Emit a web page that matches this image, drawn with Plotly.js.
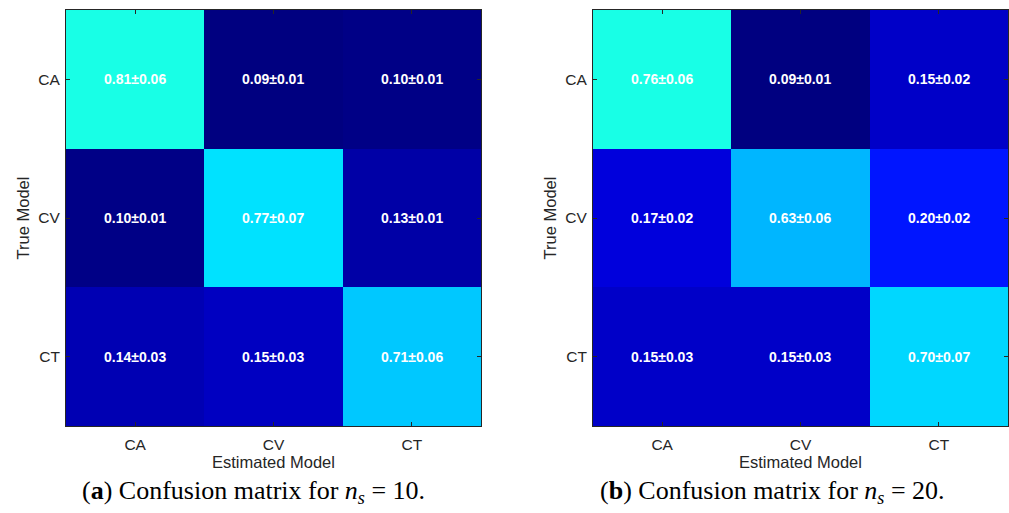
<!DOCTYPE html>
<html>
<head>
<meta charset="utf-8">
<script src="https://cdn.plot.ly/plotly-3.0.1.min.js"></script>
<style>html,body{margin:0;padding:0;background:#fff;}#chart{width:1009px;height:513px;}</style>
</head>
<body>
<div id="chart"></div>
<script>
// ---- data ----
const models = ['CA', 'CV', 'CT'];          // estimated (x) and true (y) model labels
const meanA = [[0.81, 0.09, 0.10],
               [0.10, 0.77, 0.13],
               [0.14, 0.15, 0.71]];
const stdA  = [[0.06, 0.01, 0.01],
               [0.01, 0.07, 0.01],
               [0.03, 0.03, 0.06]];
const meanB = [[0.76, 0.09, 0.15],
               [0.17, 0.63, 0.20],
               [0.15, 0.15, 0.70]];
const stdB  = [[0.06, 0.01, 0.02],
               [0.02, 0.06, 0.02],
               [0.03, 0.03, 0.07]];
const captionA = '(<b>a</b>) Confusion matrix for <i>n</i><sub><i>s</i></sub> = 10.';
const captionB = '(<b>b</b>) Confusion matrix for <i>n</i><sub><i>s</i></sub> = 20.';
const xTitle = 'Estimated Model';
const yTitle = 'True Model';

// ---- style ----
const cscale = [[0, '#000080'], [0.02, '#000088'], [0.06, '#0000AA'], [0.07, '#0000B4'],
                [0.09, '#0000C8'], [0.12, '#0000DC'], [0.16, '#0014FF'], [0.8, '#00B4FF'],
                [0.86, '#00C8FF'], [0.92, '#00DAFF'], [0.95, '#00E4FF'], [1, '#18FFE6']];
const tickFont = {family: 'Liberation Sans, Arial, sans-serif', size: 15.5, color: '#262626'};
const titleFont = {family: 'Liberation Sans, Arial, sans-serif', size: 16.5, color: '#262626'};

function hm(z, xa, ya) {
  return {type: 'heatmap', x: models, y: models, z: z, xaxis: xa, yaxis: ya,
          colorscale: cscale, showscale: false, hoverinfo: 'skip'};
}
function cellAnn(mean, std, xr, yr) {
  const out = [];
  for (let i = 0; i < models.length; i++)
    for (let j = 0; j < models.length; j++)
      out.push({x: models[j], y: models[i], xref: xr, yref: yr, showarrow: false,
        text: '<b>' + mean[i][j].toFixed(2) + '±' + std[i][j].toFixed(2) + '</b>',
        font: {family: 'Liberation Sans, Arial, sans-serif', size: 14, color: '#ffffff'}});
  return out;
}
function xAx(dom, anchor) {
  return {domain: dom, anchor: anchor, type: 'category', showline: true, mirror: 'ticks',
    linecolor: '#262626', linewidth: 1, ticks: 'inside', ticklen: 4, tickcolor: '#262626',
    tickfont: tickFont, ticklabelstandoff: 4, showgrid: false, zeroline: false, fixedrange: true,
    title: {text: xTitle, font: titleFont, standoff: 2}};
}
function yAx(dom, anchor) {
  return {domain: dom, anchor: anchor, type: 'category', autorange: 'reversed',
    showline: true, mirror: 'ticks', linecolor: '#262626', linewidth: 1, ticks: 'inside',
    ticklen: 4, tickcolor: '#262626', tickfont: tickFont, ticklabelstandoff: 2,
    showgrid: false, zeroline: false,
    fixedrange: true, title: {text: yTitle, font: titleFont, standoff: 4}};
}

const ydom = [0.1696, 0.9805];
const captionFont = {family: 'Liberation Serif, DejaVu Serif, serif', size: 26, color: '#000'};
const layout = {
  width: 1009, height: 513, margin: {l: 0, r: 0, t: 0, b: 0},
  paper_bgcolor: '#ffffff', plot_bgcolor: '#ffffff', showlegend: false,
  xaxis: xAx([0.0654, 0.4767], 'y'),
  yaxis: yAx(ydom, 'x'),
  xaxis2: xAx([0.5877, 0.9990], 'y2'),
  yaxis2: yAx(ydom, 'x2'),
  annotations: cellAnn(meanA, stdA, 'x', 'y').concat(cellAnn(meanB, stdB, 'x2', 'y2')).concat([
    {text: captionA, xref: 'paper', yref: 'paper', x: 0.251, y: 0.041, showarrow: false,
     xanchor: 'center', yanchor: 'middle', font: captionFont},
    {text: captionB, xref: 'paper', yref: 'paper', x: 0.766, y: 0.041, showarrow: false,
     xanchor: 'center', yanchor: 'middle', font: captionFont}
  ])
};

Plotly.newPlot('chart', [hm(meanA, 'x', 'y'), hm(meanB, 'x2', 'y2')], layout,
  {displayModeBar: false, staticPlot: true});
</script>
</body>
</html>
